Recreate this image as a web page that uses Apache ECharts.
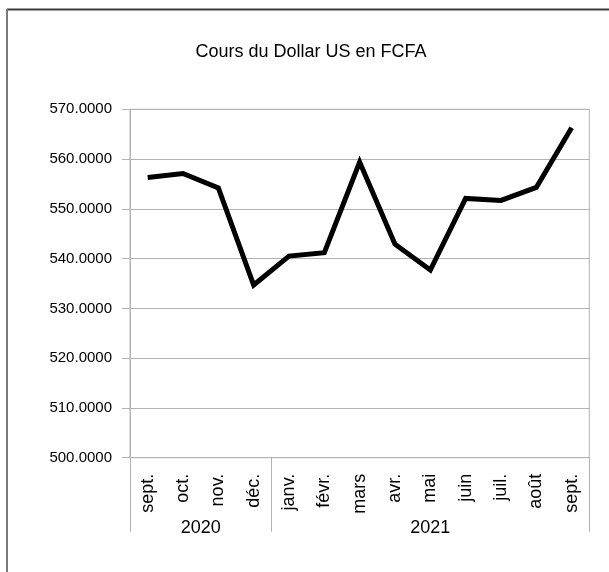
<!DOCTYPE html>
<html>
<head>
<meta charset="utf-8">
<script src="https://cdn.jsdelivr.net/npm/echarts@6/dist/echarts.min.js"></script>
<style>
  html, body { margin: 0; padding: 0; background: #fff; }
  #chart { width: 609px; height: 572px; }
</style>
</head>
<body>
<div id="chart"></div>
<script>
const months = ["sept.", "oct.", "nov.", "déc.", "janv.", "févr.", "mars", "avr.", "mai", "juin", "juil.", "août", "sept."];
const rates = [556.3, 557.1, 554.2, 534.7, 540.5, 541.2, 559.4, 542.9, 537.7, 552.1, 551.7, 554.3, 566.3];
const years = ["2020", "2021"];
const yearBounds = [0, 4, 13]; // category index where each year group starts / ends

const font = "'Liberation Sans', Arial, sans-serif";
const grey = "#b3b3b3";

const chart = echarts.init(document.getElementById("chart"));

const yearMids = years.map((y, i) => (yearBounds[i] + yearBounds[i + 1]) / 2);

chart.setOption({
  animation: false,
  textStyle: { fontFamily: font },
  title: {
    text: "Cours du Dollar US en FCFA",
    left: 306,
    top: 38,
    textAlign: "center",
    textStyle: { fontFamily: font, fontSize: 18, fontWeight: "normal", color: "#000" }
  },
  graphic: [
    { type: "line", shape: { x1: 7, y1: 9.5, x2: 609, y2: 9.5 }, style: { stroke: "#3a3a3a", lineWidth: 2 } },
    { type: "line", shape: { x1: 7, y1: 9, x2: 7, y2: 572 }, style: { stroke: "#7a7a7a", lineWidth: 2 } }
  ],
  grid: {
    left: 130, right: 19.7, top: 109.3, bottom: 114.3,
    show: true, borderColor: grey, borderWidth: 1,
    outerBoundsMode: "none"
  },
  xAxis: [
    {
      type: "category",
      data: months,
      boundaryGap: true,
      axisLine: { lineStyle: { color: grey } },
      axisTick: { interval: 0, length: 51, lineStyle: { color: grey } },
      axisLabel: {
        interval: 0, rotate: 90, margin: 16,
        fontFamily: font, fontSize: 18, color: "#000"
      },
      splitLine: { show: false }
    },
    {
      type: "value",
      position: "bottom",
      min: 0,
      max: 13,
      axisLine: { show: false },
      splitLine: { show: false },
      axisTick: { show: true, customValues: yearBounds, length: 74, lineStyle: { color: grey } },
      axisLabel: {
        customValues: yearMids,
        margin: 61,
        fontFamily: font, fontSize: 18, color: "#000",
        formatter: v => years[yearMids.indexOf(v)]
      }
    }
  ],
  yAxis: {
    type: "value",
    min: 500,
    max: 570,
    interval: 10,
    axisLine: { show: true, lineStyle: { color: grey } },
    axisTick: { show: true, length: 8, lineStyle: { color: grey } },
    axisLabel: {
      margin: 18, fontFamily: font, fontSize: 15, color: "#000",
      formatter: v => v.toFixed(4)
    },
    splitLine: { lineStyle: { color: grey } }
  },
  series: [
    {
      type: "line",
      data: rates,
      xAxisIndex: 0,
      symbol: "none",
      lineStyle: { color: "#000", width: 5, cap: "butt", join: "miter" }
    }
  ]
});
</script>
</body>
</html>
